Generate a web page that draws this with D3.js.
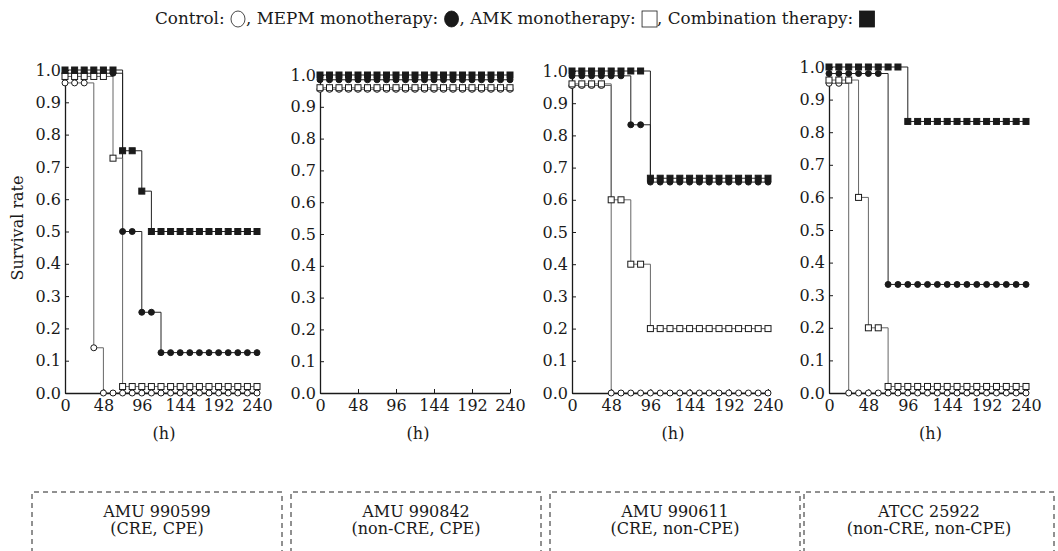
<!DOCTYPE html>
<html>
<head>
<meta charset="utf-8">
<script src="https://cdn.jsdelivr.net/npm/d3@7"></script>
<style>
  body { margin: 0; background: #fff; }
  svg text { font-family: "DejaVu Serif", serif; fill: #1a1a1a; white-space: pre; }
</style>
</head>
<body>
<div class="chart"></div>
<script>
// chart values
var times = [0, 12, 24, 36, 48, 60, 72, 84, 96, 108, 120, 132, 144, 156, 168, 180, 192, 204, 216, 228, 240];
var xTicks = [0, 48, 96, 144, 192, 240];
var yTicks = [0.0, 0.1, 0.2, 0.3, 0.4, 0.5, 0.6, 0.7, 0.8, 0.9, 1.0];
var strains = ["AMU 990599", "AMU 990842", "AMU 990611", "ATCC 25922"];
var strainTypes = ["(CRE, CPE)", "(non-CRE, CPE)", "(CRE, non-CPE)", "(non-CRE, non-CPE)"];
var groups = ["Control", "MEPM monotherapy", "AMK monotherapy", "Combination therapy"];

// AMU 990599
var control1 = [0.96, 0.96, 0.96, 0.14, 0, 0, 0, 0, 0, 0, 0, 0, 0, 0, 0, 0, 0, 0, 0, 0, 0];
var mepm1 = [0.99, 0.99, 0.99, 0.99, 0.99, 0.99, 0.5, 0.5, 0.25, 0.25, 0.125, 0.125, 0.125, 0.125, 0.125, 0.125, 0.125, 0.125, 0.125, 0.125, 0.125];
var amk1 = [0.98, 0.98, 0.98, 0.98, 0.98, 0.727, 0.02, 0.02, 0.02, 0.02, 0.02, 0.02, 0.02, 0.02, 0.02, 0.02, 0.02, 0.02, 0.02, 0.02, 0.02];
var comb1 = [1, 1, 1, 1, 1, 1, 0.75, 0.75, 0.625, 0.5, 0.5, 0.5, 0.5, 0.5, 0.5, 0.5, 0.5, 0.5, 0.5, 0.5, 0.5];

// AMU 990842
var control2 = [0.955, 0.955, 0.955, 0.955, 0.955, 0.955, 0.955, 0.955, 0.955, 0.955, 0.955, 0.955, 0.955, 0.955, 0.955, 0.955, 0.955, 0.955, 0.955, 0.955, 0.955];
var mepm2 = [0.985, 0.985, 0.985, 0.985, 0.985, 0.985, 0.985, 0.985, 0.985, 0.985, 0.985, 0.985, 0.985, 0.985, 0.985, 0.985, 0.985, 0.985, 0.985, 0.985, 0.985];
var amk2 = [0.96, 0.96, 0.96, 0.96, 0.96, 0.96, 0.96, 0.96, 0.96, 0.96, 0.96, 0.96, 0.96, 0.96, 0.96, 0.96, 0.96, 0.96, 0.96, 0.96, 0.96];
var comb2 = [1, 1, 1, 1, 1, 1, 1, 1, 1, 1, 1, 1, 1, 1, 1, 1, 1, 1, 1, 1, 1];

// AMU 990611
var control3 = [0.955, 0.955, 0.955, 0.955, 0, 0, 0, 0, 0, 0, 0, 0, 0, 0, 0, 0, 0, 0, 0, 0, 0];
var mepm3 = [0.985, 0.985, 0.985, 0.985, 0.985, 0.985, 0.833, 0.833, 0.655, 0.655, 0.655, 0.655, 0.655, 0.655, 0.655, 0.655, 0.655, 0.655, 0.655, 0.655, 0.655];
var amk3 = [0.96, 0.96, 0.96, 0.96, 0.6, 0.6, 0.4, 0.4, 0.2, 0.2, 0.2, 0.2, 0.2, 0.2, 0.2, 0.2, 0.2, 0.2, 0.2, 0.2, 0.2];
var comb3 = [1, 1, 1, 1, 1, 1, 1, 1, 0.667, 0.667, 0.667, 0.667, 0.667, 0.667, 0.667, 0.667, 0.667, 0.667, 0.667, 0.667, 0.667];

// ATCC 25922
var control4 = [0.95, 0.95, 0, 0, 0, 0, 0, 0, 0, 0, 0, 0, 0, 0, 0, 0, 0, 0, 0, 0, 0];
var mepm4 = [0.98, 0.98, 0.98, 0.98, 0.98, 0.98, 0.333, 0.333, 0.333, 0.333, 0.333, 0.333, 0.333, 0.333, 0.333, 0.333, 0.333, 0.333, 0.333, 0.333, 0.333];
var amk4 = [0.96, 0.96, 0.96, 0.6, 0.2, 0.2, 0.02, 0.02, 0.02, 0.02, 0.02, 0.02, 0.02, 0.02, 0.02, 0.02, 0.02, 0.02, 0.02, 0.02, 0.02];
var comb4 = [1, 1, 1, 1, 1, 1, 1, 1, 0.833, 0.833, 0.833, 0.833, 0.833, 0.833, 0.833, 0.833, 0.833, 0.833, 0.833, 0.833, 0.833];

var panelSeries = [
  [control1, mepm1, amk1, comb1],
  [control2, mepm2, amk2, comb2],
  [control3, mepm3, amk3, comb3],
  [control4, mepm4, amk4, comb4]
];

var svgWidth = 1058;
var svgHeight = 551;

// panel placement (pixels)
var panelLeft = [65, 320, 572, 829];
var panelRight = [257, 510, 768, 1026];
var panelTop = [70, 75, 71, 67];
var panelBottom = 393;

var boxLeft = [32, 291, 550, 804];
var boxWidth = 250;
var boxTop = 492;

// marker style per group: circle/square, filled or open
var markerShape = ["circle", "circle", "square", "square"];
var markerFill = ["#fff", "#1a1a1a", "#fff", "#1a1a1a"];

var svg = d3.select(".chart")
  .append("svg")
  .attr("width", svgWidth)
  .attr("height", svgHeight);

// legend line at the top
var legend = svg.append("g").attr("transform", "translate(155, 24)");
var lx = 0;
groups.forEach(function (g, i) {
  var label = (i === 0 ? "" : ", ") + g + ": ";
  var t = legend.append("text")
    .attr("x", lx)
    .attr("y", 0)
    .attr("xml:space", "preserve")
    .style("font-size", "16.8px")
    .text(label);
  lx += t.node().getComputedTextLength() + 1;
  if (markerShape[i] === "circle") {
    legend.append("ellipse")
      .attr("cx", lx + 7)
      .attr("cy", -5)
      .attr("rx", 7)
      .attr("ry", 8)
      .attr("fill", markerFill[i])
      .attr("stroke", "#1a1a1a")
      .attr("stroke-width", 0.8);
  } else {
    legend.append("rect")
      .attr("x", lx)
      .attr("y", -13)
      .attr("width", 15)
      .attr("height", 16)
      .attr("fill", markerFill[i])
      .attr("stroke", "#1a1a1a")
      .attr("stroke-width", 0.8);
  }
  lx += 15;
});

// y axis title
svg.append("text")
  .attr("transform", "translate(23, 228) rotate(-90)")
  .attr("text-anchor", "middle")
  .style("font-size", "16px")
  .text("Survival rate");

panelSeries.forEach(function (series, p) {
  var x = d3.scaleLinear().domain([0, 240]).range([panelLeft[p], panelRight[p]]);
  var y = d3.scaleLinear().domain([0, 1]).range([panelBottom, panelTop[p]]);

  var g = svg.append("g");

  var line = d3.line()
    .x(function (d, i) { return x(times[i]); })
    .y(function (d) { return y(d); })
    .curve(d3.curveStepAfter);

  // step lines first
  series.forEach(function (vals, s) {
    g.append("path")
      .datum(vals)
      .attr("d", line)
      .attr("fill", "none")
      .attr("stroke", s === 0 || s === 2 ? "#666" : "#222")
      .attr("stroke-width", 1);
  });

  // axes
  var leftAxis = d3.axisLeft(y)
    .tickValues(yTicks)
    .tickFormat(d3.format(".1f"))
    .tickSizeInner(-4)
    .tickSizeOuter(0)
    .tickPadding(4);

  var bottomAxis = d3.axisBottom(x)
    .tickValues(xTicks)
    .tickSizeInner(-4)
    .tickSizeOuter(0)
    .tickPadding(8);

  var ya = g.append("g")
    .attr("transform", "translate(" + panelLeft[p] + ",0)")
    .call(leftAxis);
  var xa = g.append("g")
    .attr("transform", "translate(0," + panelBottom + ")")
    .call(bottomAxis);

  [ya, xa].forEach(function (a) {
    a.select(".domain").attr("stroke", "#1a1a1a").attr("stroke-width", 1.3);
    a.selectAll(".tick line").attr("stroke", "#1a1a1a");
    a.selectAll(".tick text")
      .style("font-family", "DejaVu Serif, serif")
      .style("font-size", "16px")
      .attr("fill", "#1a1a1a");
  });
  xa.selectAll(".tick text").attr("dy", "0.6em");

  // markers on top
  series.forEach(function (vals, s) {
    var m = g.append("g");
    if (markerShape[s] === "circle") {
      m.selectAll("circle")
        .data(vals)
        .enter()
        .append("circle")
        .attr("cx", function (d, i) { return x(times[i]); })
        .attr("cy", function (d) { return y(d); })
        .attr("r", 3)
        .attr("fill", markerFill[s])
        .attr("stroke", "#1a1a1a")
        .attr("stroke-width", 1);
    } else {
      m.selectAll("rect")
        .data(vals)
        .enter()
        .append("rect")
        .attr("x", function (d, i) { return x(times[i]) - 3; })
        .attr("y", function (d) { return y(d) - 3; })
        .attr("width", 6)
        .attr("height", 6)
        .attr("fill", markerFill[s])
        .attr("stroke", "#1a1a1a")
        .attr("stroke-width", 1);
    }
  });

  // (h) label
  svg.append("text")
    .attr("x", (panelLeft[p] + panelRight[p]) / 2 + 3)
    .attr("y", 439)
    .attr("text-anchor", "middle")
    .style("font-size", "16px")
    .text("(h)");

  // dashed strain box
  svg.append("path")
    .attr("d", "M" + boxLeft[p] + "," + (svgHeight + 2) +
      "V" + boxTop + "H" + (boxLeft[p] + boxWidth) + "V" + (svgHeight + 2))
    .attr("fill", "none")
    .attr("stroke", "#222")
    .attr("stroke-width", 1)
    .attr("stroke-dasharray", "5,4");

  var bx = boxLeft[p] + boxWidth / 2;
  svg.append("text")
    .attr("x", bx)
    .attr("y", 517)
    .attr("text-anchor", "middle")
    .style("font-size", "16px")
    .text(strains[p]);
  svg.append("text")
    .attr("x", bx)
    .attr("y", 534)
    .attr("text-anchor", "middle")
    .style("font-size", "16px")
    .text(strainTypes[p]);
});
</script>
</body>
</html>
